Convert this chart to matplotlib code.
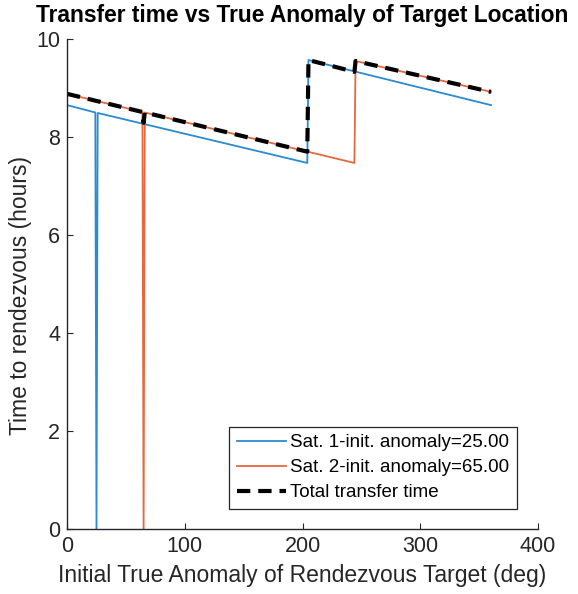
import matplotlib
matplotlib.use("Agg")
import matplotlib.pyplot as plt

plt.rcParams['font.family'] = ['Liberation Sans', 'DejaVu Sans']

# Transfer times (hours) at the breakpoints of each curve, vs target true anomaly (deg)
sat1_anom = [0, 24, 25, 26, 204, 205, 360]
sat1_time = [8.65, 8.50, 0.0, 8.49, 7.47, 9.57, 8.65]

sat2_anom = [0, 64, 65, 66, 244, 245, 360]
sat2_time = [8.88, 8.51, 0.0, 8.50, 7.47, 9.55, 8.92]

total_anom = [0, 64, 65, 66, 204, 205, 244, 245, 360]
total_time = [8.88, 8.51, 8.29, 8.50, 7.70, 9.57, 9.33, 9.55, 8.92]

labels = ['Sat. 1-init. anomaly=25.00', 'Sat. 2-init. anomaly=65.00',
          'Total transfer time']

blue = '#2a8bd0'
orange = '#e5683f'
axcol = '#262626'

fig = plt.figure(figsize=(5.78, 5.94), dpi=100)
ax = fig.add_axes([0.116, 0.1094, 0.815, 0.825])

ax.plot(sat1_anom, sat1_time, color=blue, lw=1.3, label=labels[0])
ax.plot(sat2_anom, sat2_time, color=orange, lw=1.3, label=labels[1])
ax.plot(total_anom, total_time, color='black', lw=3.0, dashes=(3.2, 1.9),
        label=labels[2])

ax.set_xlim(0, 400)
ax.set_ylim(0, 10)
ax.set_xticks([0, 100, 200, 300, 400])
ax.set_yticks([0, 2, 4, 6, 8, 10])

for side in ['top', 'right']:
    ax.spines[side].set_visible(False)
for side in ['left', 'bottom']:
    ax.spines[side].set_color(axcol)
    ax.spines[side].set_linewidth(1.0)
ax.tick_params(direction='in', length=4, width=0.8, colors=axcol,
               labelsize=15.5, pad=5)

ax.set_xlabel('Initial True Anomaly of Rendezvous Target (deg)',
              fontsize=16.5, color=axcol, labelpad=5)
ax.set_ylabel('Time to rendezvous (hours)', fontsize=16.5, color=axcol)
ax.yaxis.set_label_coords(-0.074, 0.4755)
ax.set_title('Transfer time vs True Anomaly of Target Location',
             fontsize=16.4, fontweight='bold', pad=12)

leg = ax.legend(loc='lower right', bbox_to_anchor=(0.955, 0.041),
                fontsize=13.5, handlelength=2.6, handletextpad=0.25,
                borderpad=0.4, labelspacing=0.42, borderaxespad=0.0,
                fancybox=False, framealpha=1)
leg.get_frame().set_edgecolor(axcol)
leg.get_frame().set_linewidth(0.9)

fig.savefig('out.png', dpi=100)
